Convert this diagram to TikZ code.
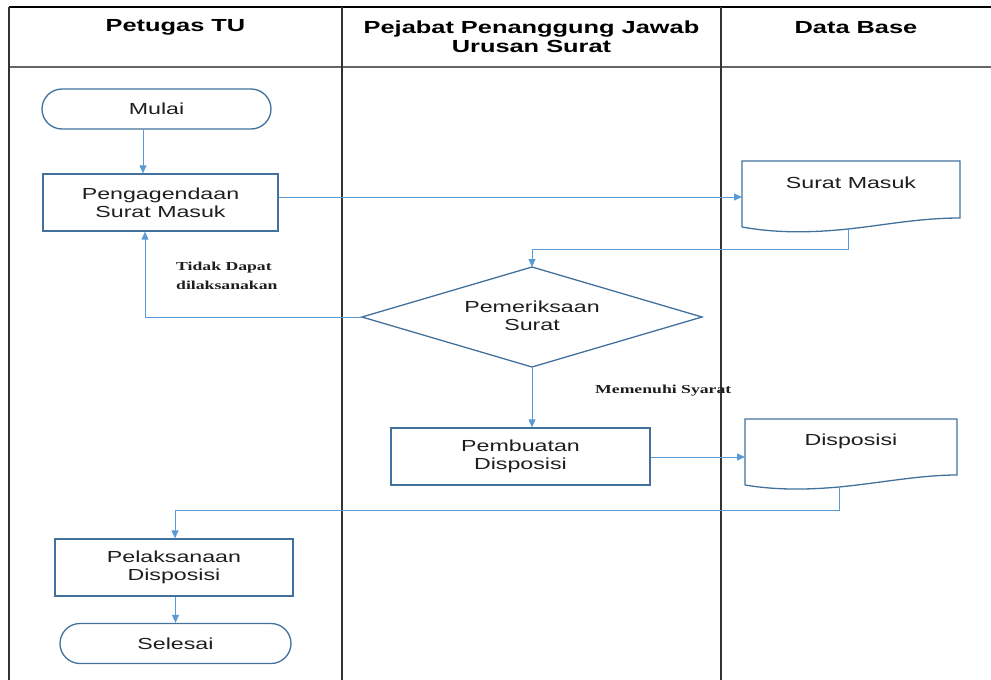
\documentclass[tikz,border=0pt]{standalone}
\usepackage{fontspec}
\setmainfont{Liberation Sans}[FakeStretch=1.45]
\newfontfamily\lblfont{Liberation Serif}[FakeStretch=1.45]
\usetikzlibrary{arrows.meta,shapes.geometric}
\definecolor{shapeblue}{HTML}{41719C}
\definecolor{connblue}{HTML}{5B9BD5}
\definecolor{txt}{HTML}{1E1E1E}
\tikzset{
  lane/.style={line width=1.4pt, draw=black!80},
  hdr/.style={font=\fontsize{17.5}{19}\selectfont\bfseries, text=black, align=center, inner sep=0pt},
  term/.style={draw=shapeblue, line width=1.3pt, rounded corners=20pt, minimum height=40pt, font=\fontsize{16}{18}\selectfont, text=txt, inner sep=0pt},
  procbox/.style={draw=shapeblue, line width=1.3pt, minimum height=57pt, font=\fontsize{16}{18}\selectfont, text=txt, align=center, inner sep=0pt},
  doctext/.style={font=\fontsize{16}{18}\selectfont, text=txt, inner sep=0pt, align=center},
  docline/.style={draw=shapeblue, line width=1.3pt},
  conn/.style={draw=connblue, line width=1pt},
  arr/.style={conn, -{Triangle[length=8pt,width=7pt]}},
  lbl/.style={font=\lblfont\fontsize{12.2}{19}\selectfont\bfseries, text=txt, align=left, inner sep=0pt}
}
\begin{document}
\begin{tikzpicture}[x=1pt,y=-1pt]
\useasboundingbox (0,0) rectangle (991,680);
% swimlane table
\coordinate (tl) at (9,7);
\coordinate (tr) at (991,7);
\coordinate (hl) at (9,67);
\coordinate (hr) at (991,67);
\coordinate (bl) at (9,680);
\coordinate (d1t) at (342,7);
\coordinate (d1b) at (342,680);
\coordinate (d2t) at (721,7);
\coordinate (d2b) at (721,680);
\draw[line width=2.2pt, draw=black] (tl) -- (tr);
\draw[line width=2pt, draw=black!60] (hl) -- (hr);
\draw[lane] (tl) -- (bl);
\draw[lane] (d1t) -- (d1b);
\draw[lane] (d2t) -- (d2b);
\node[hdr] (h1) at (175.5,27.5) {Petugas TU};
\node[hdr] (h2) at (531.5,37) {Pejabat Penanggung Jawab\\Urusan Surat};
\node[hdr] (h3) at (856,27.5) {Data Base};

% nodes
\node[term, minimum width=229pt] (mulai) at (156.5,109) {Mulai};
\node[procbox, minimum width=235pt] (peng) at (160.5,202.5) {Pengagendaan\\Surat Masuk};
\node[procbox, minimum width=259pt] (pemb) at (520.5,456.5) {Pembuatan\\Disposisi};
\node[procbox, minimum width=238pt] (pel) at (174,567.5) {Pelaksanaan\\Disposisi};
\node[term, minimum width=231pt] (selesai) at (175.5,643.5) {Selesai};

% decision diamond
\coordinate (diaN) at (532,267);
\coordinate (diaE) at (702,317);
\coordinate (diaS) at (532,367);
\coordinate (diaW) at (362,317);
\draw[docline] (diaN) -- (diaE) -- (diaS) -- (diaW) -- cycle;
\node[doctext] (dia) at (532,316) {Pemeriksaan\\Surat};

% document: Surat Masuk
\coordinate (smTL) at (742,161);
\coordinate (smTR) at (960,161);
\coordinate (smBR) at (960,218);
\coordinate (smBL) at (742,227);
\coordinate (smB) at (848,229);
\coordinate (smL) at (742,197);
\draw[docline] (smBL) -- (smTL) -- (smTR) -- (smBR)
  .. controls (920,218) and (885,225) .. (smB)
  .. controls (810,233) and (775,233) .. (smBL);
\node[doctext] (sm) at (851,183) {Surat Masuk};

% document: Disposisi
\coordinate (dsTL) at (745,419);
\coordinate (dsTR) at (957,419);
\coordinate (dsBR) at (957,475);
\coordinate (dsBL) at (745,485);
\coordinate (dsB) at (839,487);
\coordinate (dsL) at (745,457);
\draw[docline] (dsBL) -- (dsTL) -- (dsTR) -- (dsBR)
  .. controls (920,475) and (880,483) .. (dsB)
  .. controls (805,490) and (775,490) .. (dsBL);
\node[doctext] (ds) at (851,441) {Disposisi};

% connectors
\coordinate (j1) at (848,249);
\coordinate (j2) at (532,249);
\coordinate (j3) at (145,317);
\coordinate (j4) at (839,510);
\coordinate (j5) at (175,510);

\draw[arr] ([xshift=-13.5pt]mulai.south) -- ([xshift=-13.5pt]mulai.south |- peng.north);
\draw[arr] (peng.east |- smL) -- (smL);
\draw[arr] (smB) -- (j1) -- (j2) -- (diaN);
\draw[arr] (diaW) -- (j3) -- (j3 |- peng.south);
\draw[arr] (diaS) -- (diaS |- pemb.north);
\draw[arr] (pemb.east |- dsL) -- (dsL);
\draw[arr] (dsB) -- (j4) -- (j5) -- (j5 |- pel.north);
\draw[arr] (pel.south -| selesai.north) -- (selesai.north);

% labels
\node[lbl, anchor=north west] (l1) at (176,262) {Tidak Dapat\\dilaksanakan};
\node[lbl, anchor=west] (l2) at (595,391) {Memenuhi Syarat};
\end{tikzpicture}
\end{document}
